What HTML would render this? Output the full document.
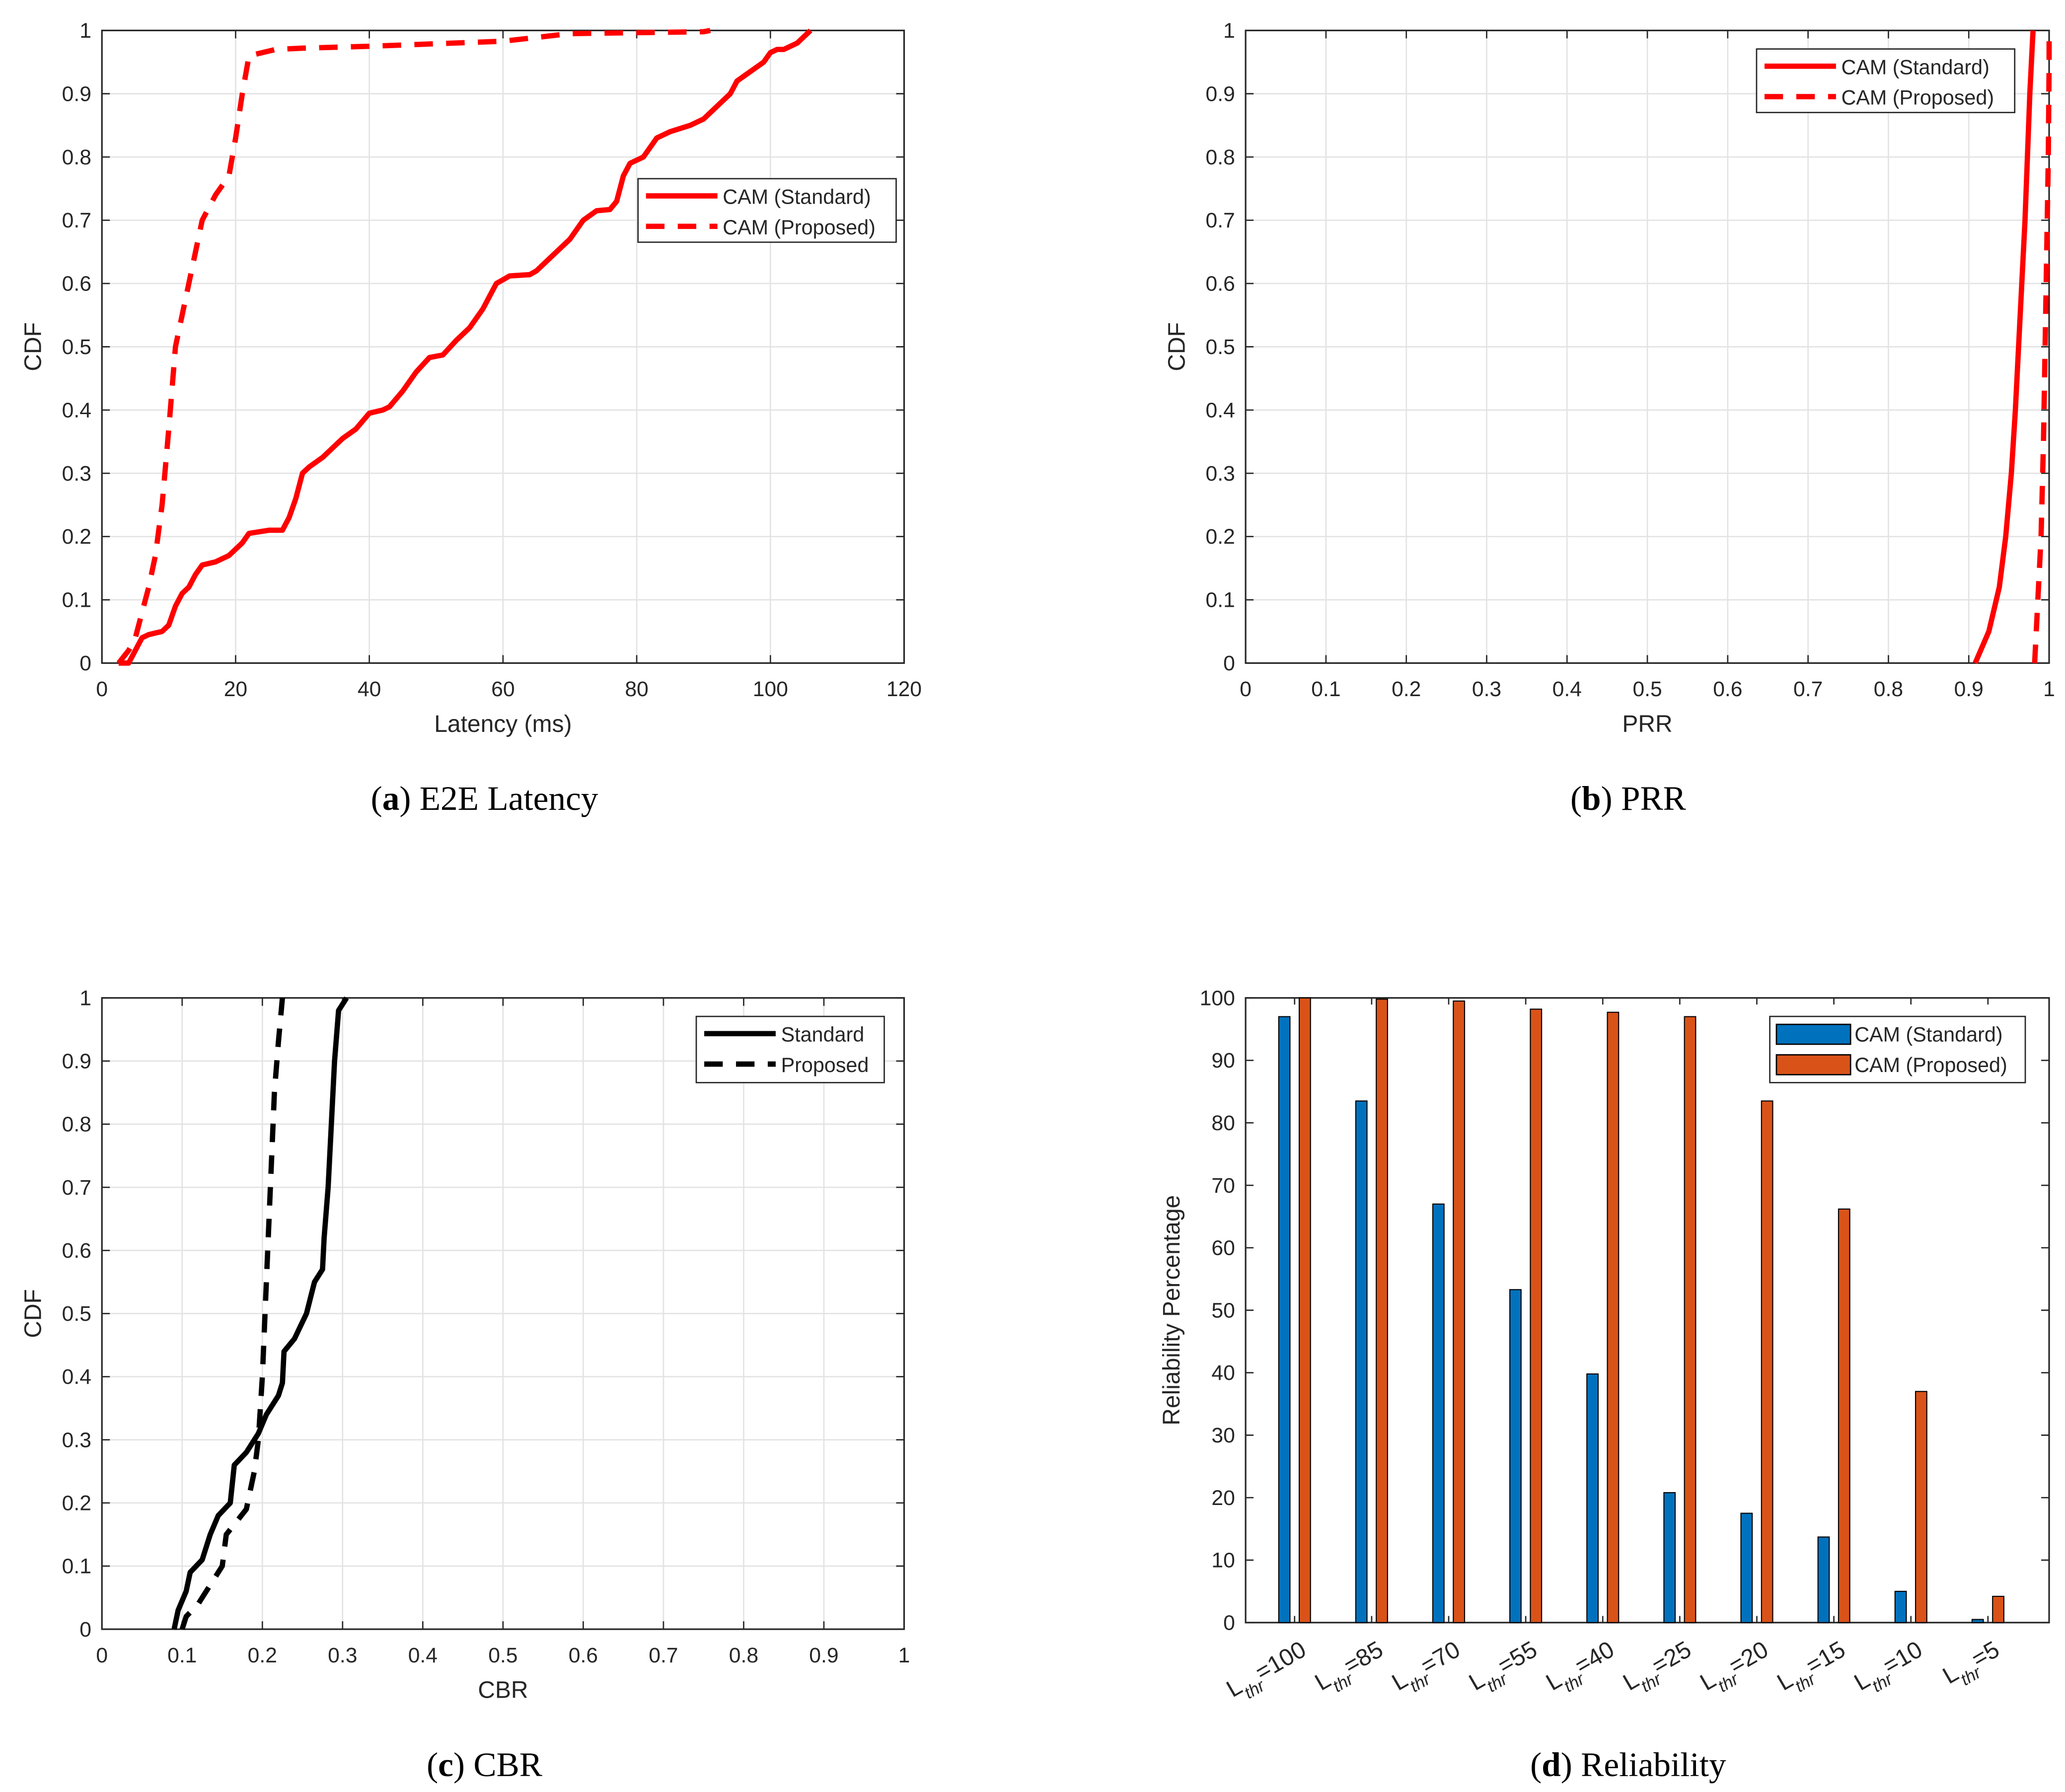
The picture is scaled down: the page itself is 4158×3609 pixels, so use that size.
<!DOCTYPE html>
<html><head><meta charset="utf-8"><style>
html,body{margin:0;padding:0;background:#fff;}
svg{display:block;}
text{font-family:"Liberation Sans",sans-serif;fill:#262626;}
.cap{font-family:"Liberation Serif",serif;fill:#000;}
</style></head><body>
<svg id="fig" width="4158" height="3609" viewBox="0 0 1560 1354" xmlns="http://www.w3.org/2000/svg"></svg>
<script>
// ---- data ----
const latStdX=[2.5,4,5,6,7,9,10,11,12,13,14,15,17,19,20,21,22,25,27,28,29,30,31,33,35,36,38,40,42,43,45,47,49,51,53,55,57,59,61,64,65,67,70,72,74,76,77,78,79,81,83,85,88,90,92,94,95,97,99,100,101,102,104,105,106];
const latStdY=[0,0,0.02,0.04,0.045,0.05,0.06,0.09,0.11,0.12,0.14,0.155,0.16,0.17,0.18,0.19,0.205,0.21,0.21,0.23,0.26,0.3,0.31,0.325,0.345,0.355,0.37,0.395,0.4,0.405,0.43,0.46,0.483,0.487,0.51,0.53,0.56,0.6,0.612,0.614,0.62,0.64,0.67,0.7,0.715,0.717,0.73,0.77,0.79,0.8,0.83,0.84,0.85,0.86,0.88,0.9,0.92,0.935,0.95,0.965,0.97,0.97,0.98,0.99,1];
const latPropX=[2.5,4,5,6,7,8,9,10,11,12,13,14,15,17,19,20,21,22,26,30,40,60,70,90,91];
const latPropY=[0,0.02,0.04,0.08,0.12,0.17,0.25,0.37,0.5,0.55,0.6,0.65,0.7,0.74,0.77,0.83,0.9,0.96,0.97,0.972,0.975,0.983,0.995,0.998,1];
const prrStdX=[0.908,0.925,0.938,0.946,0.953,0.958,0.962,0.966,0.970,0.973,0.976,0.98];
const prrStdY=[0,0.05,0.12,0.2,0.3,0.4,0.5,0.6,0.7,0.8,0.9,1];
const prrPropX=[0.982,0.986,0.99,0.993,0.995,0.997,0.999,1.0,1.0];
const prrPropY=[0,0.1,0.2,0.35,0.5,0.65,0.8,0.95,1];
const cbrStdX=[0.09,0.095,0.105,0.11,0.125,0.135,0.145,0.16,0.165,0.18,0.195,0.205,0.22,0.225,0.227,0.24,0.255,0.265,0.275,0.277,0.282,0.286,0.29,0.295,0.305];
const cbrStdY=[0,0.03,0.06,0.09,0.11,0.15,0.18,0.2,0.26,0.28,0.31,0.34,0.37,0.39,0.44,0.46,0.5,0.55,0.57,0.62,0.7,0.8,0.9,0.98,1];
const cbrPropX=[0.1,0.105,0.12,0.14,0.15,0.155,0.18,0.19,0.195,0.2,0.205,0.21,0.215,0.22,0.225];
const cbrPropY=[0,0.02,0.04,0.08,0.1,0.15,0.19,0.25,0.3,0.4,0.55,0.7,0.85,0.93,1];
const relCats=["100","85","70","55","40","25","20","15","10","5"];
const relStd=[97,83.5,67,53.3,39.8,20.8,17.5,13.7,5,0.5];
const relProp=[100,99.8,99.5,98.2,97.7,97,83.5,66.2,37,4.2];
const cdfTicks=[0,0.1,0.2,0.3,0.4,0.5,0.6,0.7,0.8,0.9,1];
const latTicks=[0,20,40,60,80,100,120];
const relTicks=[0,10,20,30,40,50,60,70,80,90,100];

const NS="http://www.w3.org/2000/svg";
const fig=document.getElementById('fig');
function mk(tag,attrs,parent){const e=document.createElementNS(NS,tag);for(const k in attrs)e.setAttribute(k,attrs[k]);(parent||fig).appendChild(e);return e;}
function txt(s,attrs,parent){const e=mk('text',attrs,parent);e.textContent=s;return e;}

function axes(name,L,R,T,B,xmin,xmax,ymin,ymax,xt,yt,grid,xlab,ylab,fmtX){
  const g=mk('g',{});
  
  
  const sx=v=>L+(v-xmin)/(xmax-xmin)*(R-L);
  const sy=v=>B-(v-ymin)/(ymax-ymin)*(B-T);
  if(grid){
    xt.forEach(v=>{const l=mk('line',{x1:sx(v),x2:sx(v),y1:T,y2:B,stroke:'#e3e3e3','stroke-width':1},g);});
    yt.forEach(v=>{const l=mk('line',{x1:L,x2:R,y1:sy(v),y2:sy(v),stroke:'#e3e3e3','stroke-width':1},g);});
  }
  const box=mk('rect',{x:L,y:T,width:R-L,height:B-T,fill:'none',stroke:'#262626','stroke-width':1.2},g);
  
  yt.forEach(v=>{
    mk('line',{x1:L,x2:L+6,y1:sy(v),y2:sy(v),stroke:'#262626','stroke-width':1},g);
    mk('line',{x1:R,x2:R-6,y1:sy(v),y2:sy(v),stroke:'#262626','stroke-width':1},g);
    const t=txt(String(v),{x:L-8,y:sy(v)+5.5,'text-anchor':'end','font-size':16},g);
    
  });
  if(xt){xt.forEach(v=>{
    mk('line',{x1:sx(v),x2:sx(v),y1:B,y2:B-6,stroke:'#262626','stroke-width':1},g);
    mk('line',{x1:sx(v),x2:sx(v),y1:T,y2:T+6,stroke:'#262626','stroke-width':1},g);
    if(fmtX!==false){const t=txt(String(v),{x:sx(v),y:B+25,'text-anchor':'middle','font-size':16},g);
    }
  });}
  if(xlab){const t=txt(xlab,{x:(L+R)/2,y:B+52,'text-anchor':'middle','font-size':18},g);}
  if(ylab){const t=txt(ylab[0],{x:ylab[1],y:(T+B)/2,'text-anchor':'middle','font-size':18,transform:`rotate(-90 ${ylab[1]} ${(T+B)/2})`},g);}
  return {sx,sy,g};
}
function line(ax,xs,ys,color,dash,name,w){
  const d=xs.map((x,i)=>(i?'L':'M')+ax.sx(x).toFixed(2)+' '+ax.sy(ys[i]).toFixed(2)).join(' ');
  const p=mk('path',{d,fill:'none',stroke:color,'stroke-width':w||4,'stroke-dasharray':dash||'none','stroke-linejoin':'round'},ax.g);
  
}
function legend(name,x,y,w,h,items){
  const g=mk('g',{});
  
  mk('rect',{x,y,width:w,height:h,fill:'#fff',stroke:'#262626','stroke-width':1},g);
  items.forEach((it,i)=>{
    const cy=y+13+i*23;
    const e=mk('g',{},g);
    
    if(it.bar){mk('rect',{x:x+5,y:cy-7,width:56,height:15,fill:it.color,stroke:'#000','stroke-width':1},e);}
    else mk('line',{x1:x+6,x2:x+60,y1:cy,y2:cy,stroke:it.color,'stroke-width':4,'stroke-dasharray':it.dash||'none'},e);
    txt(it.label,{x:x+64,y:cy+6,'font-size':15.5},e);
  });
}
function caption(letter,rest,cx,y){
  const t=mk('text',{x:cx,y,'text-anchor':'middle','font-size':26,class:'cap'});
  
  t.appendChild(document.createTextNode('('));
  const b=document.createElementNS(NS,'tspan');b.setAttribute('font-weight','bold');b.textContent=letter;t.appendChild(b);
  t.appendChild(document.createTextNode(') '+rest));
}

// Panel a
const a=axes('latency-chart',77,683,23,501,0,120,0,1,latTicks,cdfTicks,true,'Latency (ms)',['CDF',31]);
line(a,latStdX,latStdY,'#ff0000',null,'cam-standard-line');
line(a,latPropX,latPropY,'#ff0000','14 10','cam-proposed-line');
legend('latency-legend',482,135,195,48,[{label:'CAM (Standard)',color:'#ff0000'},{label:'CAM (Proposed)',color:'#ff0000',dash:'14 10'}]);
caption('a','E2E Latency',366,612);

// Panel b
const b=axes('prr-chart',941,1548,23,501,0,1,0,1,cdfTicks,cdfTicks,true,'PRR',['CDF',895]);
line(b,prrStdX,prrStdY,'#ff0000',null,'cam-standard-line');
line(b,prrPropX,prrPropY,'#ff0000','14 10','cam-proposed-line');
legend('prr-legend',1327,37,195,48,[{label:'CAM (Standard)',color:'#ff0000'},{label:'CAM (Proposed)',color:'#ff0000',dash:'14 10'}]);
caption('b','PRR',1230,612);

// Panel c
const c=axes('cbr-chart',77,683,754,1231,0,1,0,1,cdfTicks,cdfTicks,true,'CBR',['CDF',31]);
line(c,cbrStdX,cbrStdY,'#000000',null,'standard-line');
line(c,cbrPropX,cbrPropY,'#000000','14 10','proposed-line');
legend('cbr-legend',526,768,142,50,[{label:'Standard',color:'#000'},{label:'Proposed',color:'#000',dash:'14 10'}]);
caption('c','CBR',366,1342);

// Panel d
const d=axes('reliability-chart',941,1548,754,1226,0,10,0,100,null,relTicks,false,null,['Reliability Percentage',891]);
const gx=i=>978+i*58.2;
const relTickIdx=relCats.map((c2,i)=>i);
relTickIdx.forEach(i=>{mk('line',{x1:gx(i),x2:gx(i),y1:1226,y2:1221,stroke:'#262626','stroke-width':1},d.g);mk('line',{x1:gx(i),x2:gx(i),y1:754,y2:759,stroke:'#262626','stroke-width':1},d.g);});
relCats.forEach((cat,i)=>{
  const bs=mk('rect',{x:gx(i)-12,y:d.sy(relStd[i]),width:8.5,height:1226-d.sy(relStd[i]),fill:'#0072bd',stroke:'#000','stroke-width':0.8},d.g);
  
  const bp=mk('rect',{x:gx(i)+3.5,y:d.sy(relProp[i]),width:8.5,height:1226-d.sy(relProp[i]),fill:'#d95319',stroke:'#000','stroke-width':0.8},d.g);
  
  const tx=gx(i)+10, ty=1250;
  const t=mk('text',{x:tx,y:ty,'text-anchor':'end','font-size':18,transform:`rotate(-30 ${tx} ${ty})`},d.g);
  
  t.appendChild(document.createTextNode('L'));
  const s=document.createElementNS(NS,'tspan');s.setAttribute('font-size','13');s.setAttribute('dy','7');s.setAttribute('font-style','italic');s.textContent='thr';t.appendChild(s);
  const r=document.createElementNS(NS,'tspan');r.setAttribute('dy','-7');r.textContent='='+cat;t.appendChild(r);
});
legend('reliability-legend',1337,768,193,50,[{label:'CAM (Standard)',color:'#0072bd',bar:true},{label:'CAM (Proposed)',color:'#d95319',bar:true}]);
caption('d','Reliability',1230,1342);
</script>
</body></html>
